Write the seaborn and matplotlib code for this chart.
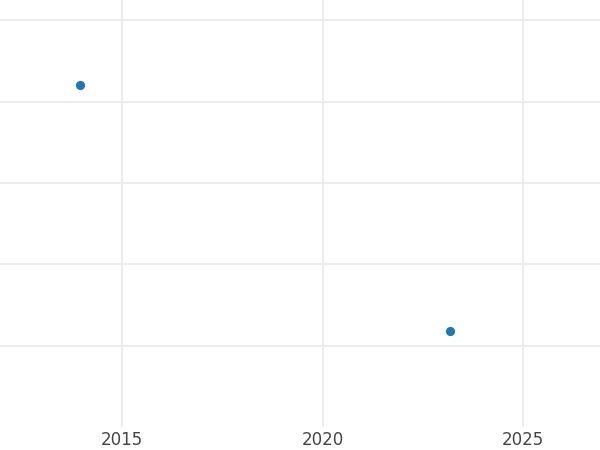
import pandas as pd
import matplotlib
matplotlib.use("Agg")
import matplotlib.pyplot as plt
import seaborn as sns

# values
years = [2013.95, 2023.17]
values = [4.2, 1.18]

df = pd.DataFrame({"year": years, "value": values})

sns.set_style("white")
plt.rcParams['font.family'] = ['DejaVu Sans']

fig = plt.figure(figsize=(6, 4.5), dpi=100)
ax = fig.add_axes([0, 1 - 427 / 450, 1, 427 / 450])

sns.scatterplot(data=df, x="year", y="value", ax=ax, color="#1f77b4",
                s=44, linewidth=0, zorder=3)

ax.set_xlim(2011.96, 2026.91)
ax.set_ylim(0.0, 5.25)
ax.set_xticks([2015, 2020, 2025])
ax.set_yticks([1, 2, 3, 4, 5])
ax.set_yticklabels([])
ax.grid(True, color="#ebebeb", linewidth=1.3)
ax.set_axisbelow(True)
ax.tick_params(axis="both", length=0, labelsize=12, labelcolor="#444444", pad=3)
ax.set_xlabel("")
ax.set_ylabel("")
for s in ax.spines.values():
    s.set_visible(False)

fig.savefig("out.png", dpi=100)
